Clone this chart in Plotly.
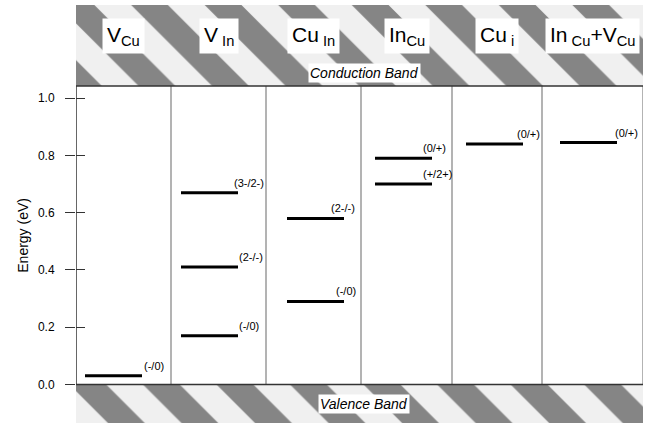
import plotly.graph_objects as go

# ---------------- data ----------------
DEFECTS = ["V<sub>Cu</sub>", "V<sub> In</sub>", "Cu<sub> In</sub>", "In<sub>Cu</sub>",
           "Cu<sub> i</sub>", "In<sub> Cu</sub>+V<sub>Cu</sub>"]
LEVEL_DEFECT = [0, 1, 1, 1, 2, 2, 3, 3, 4, 5]
LEVEL_ENERGY = [0.03, 0.67, 0.41, 0.17, 0.58, 0.29, 0.79, 0.70, 0.84, 0.845]
LEVEL_LABEL = ["(-/0)", "(3-/2-)", "(2-/-)", "(-/0)", "(2-/-)", "(-/0)",
               "(0/+)", "(+/2+)", "(0/+)", "(0/+)"]
Y_TICKS = [0.0, 0.2, 0.4, 0.6, 0.8, 1.0]
Y_TICK_TEXT = ["0.0", "0.2", "0.4", "0.6", "0.8", "1.0"]

# ---------------- layout constants ----------------
COL_EDGES = [0, 95, 190, 285, 376, 466, 567]
LINE_START = [9, 10, 21, 14, 14, 18]
LINE_LEN = 57
LABEL_XSHIFT = [0, -6, -1, -1, -15, -10, -11, -11, -8, -4]
Y_TOP = 1.043
Y_MIN, Y_MAX = -0.135, 1.326
X_MAX = COL_EDGES[-1]
FONT = "Liberation Sans, Arial, sans-serif"

fig = go.Figure()

# hatched band regions (conduction above, valence below)
for base, h in [(Y_TOP, Y_MAX - Y_TOP), (Y_MIN, -Y_MIN)]:
    fig.add_trace(go.Bar(
        x=[X_MAX / 2], y=[h], base=[base], width=[X_MAX],
        marker=dict(color="#f2f2f2", line=dict(width=0),
                    pattern=dict(shape="\\", fgcolor="#858585", bgcolor="#f0f0f0",
                                 size=52, solidity=0.5, fillmode="replace")),
        hoverinfo="skip", showlegend=False))

# column dividers
for e in COL_EDGES[1:-1]:
    fig.add_shape(type="line", x0=e, x1=e, y0=0, y1=Y_TOP,
                  line=dict(color="#9a9a9a", width=1.5), layer="below")
# borders
fig.add_shape(type="line", x0=0, x1=0, y0=0, y1=Y_TOP, line=dict(color="#333", width=1.5), layer="above")
fig.add_shape(type="line", x0=X_MAX, x1=X_MAX, y0=0, y1=Y_TOP, line=dict(color="#9a9a9a", width=1.5), layer="above")
fig.add_shape(type="line", x0=0, x1=X_MAX, y0=Y_TOP, y1=Y_TOP, line=dict(color="#333", width=1.5), layer="above")
fig.add_shape(type="line", x0=0, x1=X_MAX, y0=0, y1=0, line=dict(color="#333", width=1.5), layer="above")

# level lines
xs, ys = [], []
for d, e in zip(LEVEL_DEFECT, LEVEL_ENERGY):
    x0 = COL_EDGES[d] + LINE_START[d]
    xs += [x0, x0 + LINE_LEN, None]
    ys += [e, e, None]
fig.add_trace(go.Scatter(x=xs, y=ys, mode="lines", line=dict(color="black", width=3),
                         hoverinfo="skip", showlegend=False))

# level labels
for i, (d, e, lab) in enumerate(zip(LEVEL_DEFECT, LEVEL_ENERGY, LEVEL_LABEL)):
    xend = COL_EDGES[d] + LINE_START[d] + LINE_LEN
    fig.add_annotation(x=xend, y=e, text=lab, showarrow=False, xanchor="left",
                       yanchor="middle", xshift=LABEL_XSHIFT[i], yshift=10,
                       font=dict(family=FONT, size=11, color="black"))

# defect headers
for d, name in enumerate(DEFECTS):
    fig.add_annotation(x=(COL_EDGES[d] + COL_EDGES[d + 1]) / 2, y=1.218, text=name,
                       showarrow=False, bgcolor="white", borderpad=4,
                       font=dict(family=FONT, size=21, color="black"))

fig.add_annotation(x=288, y=1.089, text="<i>Conduction Band</i>", showarrow=False,
                   bgcolor="white", borderpad=1, font=dict(family=FONT, size=14, color="black"))
fig.add_annotation(x=288, y=-0.067, text="<i>Valence Band</i>", showarrow=False,
                   bgcolor="white", borderpad=1, font=dict(family=FONT, size=14, color="black"))

# axis title
fig.add_annotation(xref="paper", x=-0.095, y=0.52, xanchor="center", yanchor="middle",
                   text="Energy (eV)", textangle=-90,
                   showarrow=False, font=dict(family=FONT, size=14, color="black"))

fig.update_layout(
    width=654, height=423,
    margin=dict(l=76, r=11, t=5, b=0, autoexpand=False),
    paper_bgcolor="white", plot_bgcolor="white",
    showlegend=False, barmode="overlay",
    xaxis=dict(range=[0, X_MAX], visible=False, fixedrange=True, automargin=False),
    yaxis=dict(range=[Y_MIN, Y_MAX], tickvals=Y_TICKS, ticktext=Y_TICK_TEXT,
               ticks="outside", ticklen=10, tickwidth=1, tickcolor="#333",
               ticklabelstandoff=8, showgrid=False, zeroline=False, showline=False,
               automargin=False, tickfont=dict(family=FONT, size=12, color="black")),
    yaxis2=dict(range=[Y_MIN, Y_MAX], overlaying="y", side="left", tickvals=Y_TICKS,
                ticks="inside", ticklen=9, tickwidth=1, tickcolor="#333", automargin=False,
                showticklabels=False, showgrid=False, zeroline=False, showline=False),
)
fig.add_trace(go.Scatter(x=[None], y=[None], yaxis="y2", showlegend=False))

fig.write_html("out.html", config={"displayModeBar": False},
               post_script="document.body.style.margin='0px';document.body.style.overflow='hidden';")
